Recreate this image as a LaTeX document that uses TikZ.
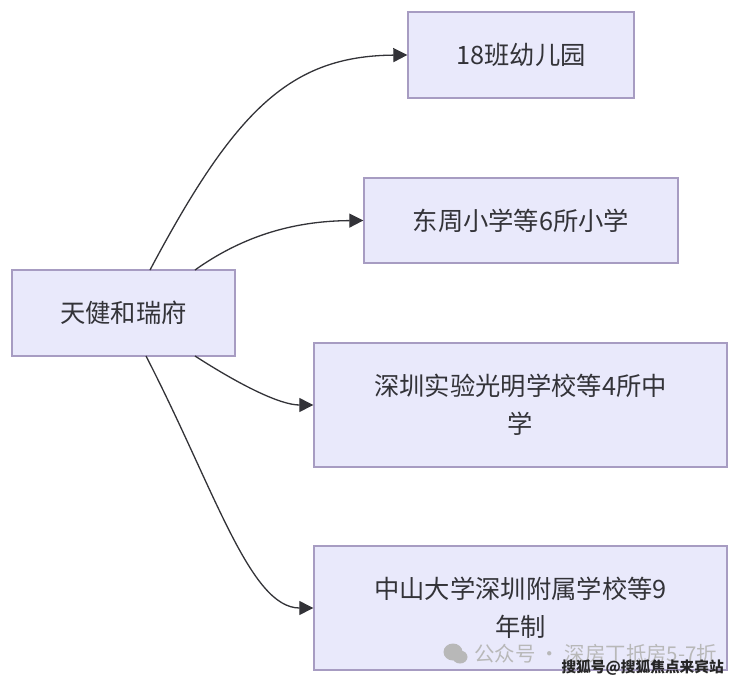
\documentclass[tikz,border=0pt]{standalone}
\usepackage{fontspec}
\setmainfont{Noto Sans CJK SC}
\usetikzlibrary{arrows.meta}
\definecolor{boxfill}{HTML}{E9E9FB}
\definecolor{boxline}{HTML}{A79CC2}
\definecolor{ink}{HTML}{333338}
\definecolor{wm}{HTML}{B8B8B8}
\tikzset{
  box/.style={draw=boxline,fill=boxfill,line width=1.4pt,text=ink,font=\fontsize{25.3}{38}\selectfont,align=center,inner sep=0pt},
  link/.style={draw=ink,line width=1.3pt,-{Triangle[length=14pt,width=14pt]}},
  mark1/.style={text=wm,font=\fontsize{20.4}{22}\selectfont,inner sep=0pt},
  mark2/.style={text=black!85,font=\fontsize{14.7}{18}\selectfont,inner sep=0pt,draw=none}
}
\begin{document}
\begin{tikzpicture}[x=1pt,y=-1pt]
\useasboundingbox (0,0) rectangle (740,683);
\fill[white] (0,0) rectangle (740,683);
\node[box,minimum width=223pt,minimum height=86pt] (A) at (123.5,313) {天健和瑞府};
\node[box,minimum width=226pt,minimum height=86pt] (B1) at (521,55) {18班幼儿园};
\node[box,minimum width=314pt,minimum height=85pt] (B2) at (521,220.5) {东周小学等6所小学};
\node[box,minimum width=413pt,minimum height=124pt] (B3) at (520.5,405) {深圳实验光明学校等4所中\\学};
\node[box,minimum width=413pt,minimum height=124pt] (B4) at (520.5,608) {中山大学深圳附属学校等9\\年制};
\coordinate (a1) at (150,270);
\coordinate (a2) at (195,270);
\coordinate (a3) at (195,356);
\coordinate (a4) at (146,356);
\draw[link] (a1) .. controls (235,110) and (290,56) .. (B1.west);
\draw[link] (a2) .. controls (240,238) and (290,221) .. (B2.west);
\draw[link] (a3) .. controls (240,385) and (280,405) .. (B3.west);
\draw[link] (a4) .. controls (215,490) and (250,608) .. (B4.west);
% WeChat mark
\fill[wm] (453,652) ellipse (9.5pt and 8.5pt);
\fill[wm] (460,657) ellipse (7.5pt and 6.5pt);
\node[mark1,anchor=west] (w1) at (474,654) {公众号 · 深房丁抵房5-7折};
\node[mark2,anchor=east] (w2) at (724,668) {\bfseries 搜狐号@搜狐焦点来宾站};
\end{tikzpicture}
\end{document}
